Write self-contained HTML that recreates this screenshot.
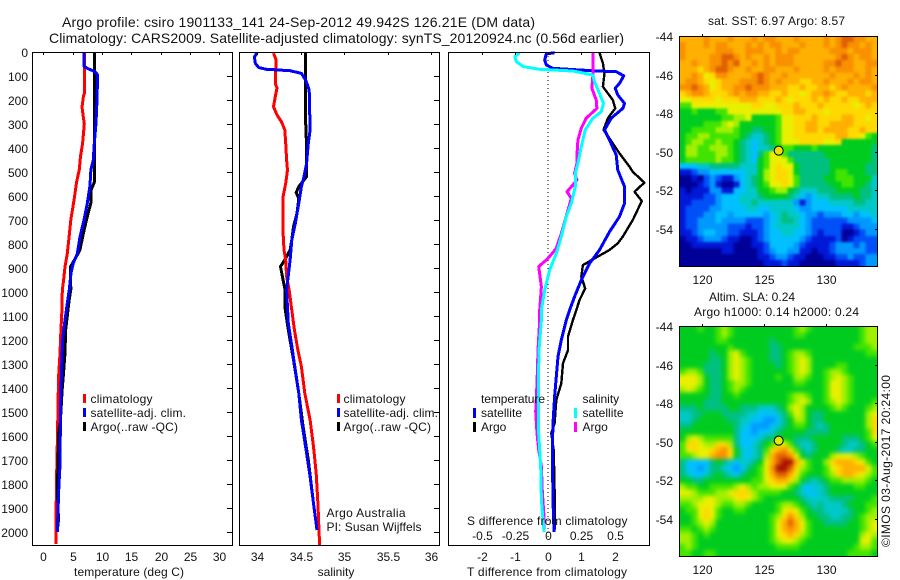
<!DOCTYPE html>
<html lang="en">
<head>
<meta charset="utf-8">
<title>Argo profile chart</title>
<style>
html,body{margin:0;padding:0;background:#fff;width:900px;height:580px;overflow:hidden}
svg{display:block;font-family:"Liberation Sans",sans-serif;font-size:12px;fill:#000}
text{fill:#111}
</style>
</head>
<body>
<svg id="chart" xmlns="http://www.w3.org/2000/svg" width="900" height="580" viewBox="0 0 900 580">
<defs>
<filter id="blur-sst" filterUnits="userSpaceOnUse" x="660" y="16" width="240" height="270" color-interpolation-filters="sRGB"><feGaussianBlur stdDeviation="1.2"/></filter>
<filter id="blur-sla" filterUnits="userSpaceOnUse" x="660" y="306" width="240" height="270" color-interpolation-filters="sRGB"><feGaussianBlur stdDeviation="2"/></filter>
<clipPath id="clip-sst"><rect x="679" y="36" width="198" height="230"/></clipPath>
<clipPath id="clip-sla"><rect x="679" y="326" width="198" height="230"/></clipPath>
</defs>
<rect x="0" y="0" width="900" height="580" fill="#fff"/>
<g clip-path="url(#clip-sst)"><g id="map-sst" filter="url(#blur-sst)"></g></g>
<g clip-path="url(#clip-sla)"><g id="map-sla" filter="url(#blur-sla)"></g></g>
<g id="lines"></g>
<g id="axes"></g>
<text x="62" y="27" font-size="14" textLength="473">Argo profile: csiro 1901133_141 24-Sep-2012 49.942S 126.21E (DM data)</text>
<text x="49" y="43" font-size="14" textLength="575">Climatology: CARS2009. Satellite-adjusted climatology: synTS_20120924.nc (0.56d earlier)</text>
<text x="74" y="576" textLength="110">temperature (deg C)</text>
<text x="336" y="576" text-anchor="middle">salinity</text>
<text x="467" y="576" textLength="160">T difference from climatology</text>
<text x="467" y="525" textLength="160.5">S difference from climatology</text>
<text x="326.5" y="517" textLength="79">Argo Australia</text>
<text x="326.5" y="531" textLength="95">PI: Susan Wijffels</text>
<text x="708" y="25" textLength="137">sat. SST: 6.97 Argo: 8.57</text>
<text x="709" y="301">Altim. SLA: 0.24</text>
<text x="694" y="316" textLength="165">Argo h1000: 0.14 h2000: 0.24</text>
<text transform="translate(890,547) rotate(-90)" textLength="172">©IMOS 03-Aug-2017 20:24:00</text>
<g>
<rect x="83" y="394" width="3" height="9" fill="#f00"/>
<text x="90.5" y="403" textLength="62">climatology</text>
<rect x="83" y="408" width="3" height="9" fill="#00f"/>
<text x="90.5" y="417" textLength="95.5">satellite-adj. clim.</text>
<rect x="83" y="422" width="3" height="9" fill="#000"/>
<text x="90.5" y="431" textLength="87.5">Argo(..raw -QC)</text>
</g>
<g>
<rect x="337" y="394" width="3" height="9" fill="#f00"/>
<text x="343.5" y="403" textLength="62">climatology</text>
<rect x="337" y="408" width="3" height="9" fill="#00f"/>
<text x="343.5" y="417" textLength="94.5">satellite-adj. clim.</text>
<rect x="337" y="422" width="3" height="9" fill="#000"/>
<text x="343.5" y="431" textLength="87.5">Argo(..raw -QC)</text>
</g>
<g>
<text x="481" y="403" textLength="64">temperature</text>
<rect x="473" y="408" width="3" height="10" fill="#00f"/>
<text x="481" y="417" textLength="41">satellite</text>
<rect x="473" y="422" width="3" height="10" fill="#000"/>
<text x="481" y="431">Argo</text>
<text x="582.5" y="403">salinity</text>
<rect x="574" y="408" width="3" height="10" fill="#0ff"/>
<text x="582.5" y="417" textLength="41">satellite</text>
<rect x="574" y="422" width="3" height="10" fill="#f0f"/>
<text x="582.5" y="431">Argo</text>
</g>
</svg>
<script>
/* ---------- tick labels ---------- */
const depthTicks = [0,100,200,300,400,500,600,700,800,900,1000,1100,1200,1300,1400,1500,1600,1700,1800,1900,2000];
const tempTicks = [0,5,10,15,20,25,30];
const salTicks = [34,34.5,35,35.5,36];
const tDiffTicks = [-2,-1,0,1,2];
const sDiffTicks = [-0.5,-0.25,0,0.25,0.5];
const lonTicks = [120,125,130];
const latTicks = [-44,-46,-48,-50,-52,-54];
const argoLon = 126.21;
const argoLat = -49.942;

/* ---------- temperature panel ---------- */
const climTempDepth = [5,170,185,230,300,380,435,490,540,615,700,770,840,895,965,990,1060,1160,1255,1360,1550,1730,1965,2050];
const climTemp = [7.05,7.05,6.85,6.6,7.0,6.7,6.35,6.15,5.7,5.25,4.7,4.4,4.1,3.7,3.4,3.25,3.2,3.0,2.85,2.6,2.45,2.3,2.15,2.15];
const satTempDepth = [5,60,70,82,95,200,297,380,450,490,560,630,700,770,840,880,920,990,1047,1117,1200,1315,1482,1728,1825,2000];
const satTemp = [6.94,6.94,7.68,8.82,9.27,9.16,8.99,8.7,8.53,8.13,7.96,7.51,6.94,6.26,5.8,5.12,4.72,4.44,4.1,3.7,3.3,3.13,2.96,2.84,2.62,2.39];
const argoTempDepth = [5,380,540,575,630,685,755,825,845,895,990,1035,1160,1255,1355,1410,1545,1575,1730,1825,1950,1990];
const argoTemp = [8.75,8.7,8.75,8.15,8.1,7.5,6.85,6.25,5.8,4.65,4.7,4.4,3.8,3.7,3.4,3.2,2.9,2.65,2.5,2.4,2.6,2.4];

/* ---------- salinity panel ---------- */
const climSalDepth = [5,33,130,151,186,228,262,290,325,380,450,492,547,603,756,825,867,936,992,1047,1158,1242,1311,1422,1533,1644,1756,1881,2054];
const climSal = [34.19,34.22,34.21,34.23,34.21,34.19,34.23,34.28,34.32,34.33,34.34,34.35,34.33,34.3,34.3,34.31,34.33,34.34,34.37,34.39,34.43,34.47,34.51,34.55,34.61,34.65,34.68,34.7,34.72];
const satSalDepth = [5,20,47,65,72,78,89,117,158,325,380,464,519,561,630,714,783,867,992,1131,1200,1325,1422,1533,1672,1769,1881,1992];
const satSal = [34.0,33.97,33.98,34.02,34.11,34.38,34.51,34.56,34.6,34.61,34.59,34.57,34.54,34.51,34.48,34.44,34.4,34.38,34.34,34.36,34.39,34.44,34.48,34.51,34.57,34.61,34.65,34.69];
const argoSalDepth = [5,297,394,519,547,561,586,610,672,728,783,825,860,894,950,985,1060,1158,1283,1422,1561,1700,1881,1992];
const argoSal = [34.56,34.56,34.57,34.57,34.51,34.48,34.45,34.48,34.46,34.42,34.4,34.38,34.33,34.27,34.3,34.32,34.32,34.36,34.42,34.48,34.53,34.59,34.65,34.69];

/* ---------- difference panel ---------- */
const satTDiffDepth = [3,8,33,54,68,75,79,82,99,131,151,179,214,235,276,325,367,429,492,561,631,686,749,825,881,950,1019,1075,1117,1200,1269,1353,1436,1547,1658,1867,2000];
const satTDiff = [0.2,-0.05,-0.1,-0.05,0.15,0.95,1.55,2.05,2.28,2.15,2.02,2.1,2.3,2.25,1.9,1.7,1.85,2.05,2.1,2.3,2.3,2.15,1.85,1.55,1.25,1.0,0.8,0.65,0.55,0.4,0.3,0.25,0.2,0.15,0.13,0.15,0.18];
const argoTDiffDepth = [3,47,89,144,200,235,276,325,360,422,478,499,544,582,621,700,769,797,825,860,888,936,985,1033,1075,1117,1186,1242,1297,1381,1450,1547,1589,1658,1831,1990];
const argoTDiff = [1.55,1.65,1.7,1.65,1.95,2.02,1.8,1.67,1.85,2.15,2.45,2.55,2.9,2.6,2.82,2.55,2.25,2.1,1.85,1.4,1.05,1.0,1.12,0.95,0.85,0.75,0.6,0.6,0.45,0.4,0.25,0.2,0.1,0.17,0.2,0.2];
const satSDiffDepth = [3,19,40,61,72,79,96,124,172,214,249,276,325,394,464,506,561,631,686,769,839,908,992,1075,1117,1242,1381,1589,1728,1867,2000];
const satSDiff = [-0.2125,-0.25,-0.2375,-0.1875,-0.0625,0.1875,0.3375,0.35,0.3875,0.4175,0.4,0.3375,0.28,0.25,0.225,0.205,0.205,0.175,0.1375,0.1,0.0625,0.0125,-0.025,-0.05,-0.05,-0.0675,-0.0725,-0.07,-0.055,-0.05,-0.03];
const argoSDiffDepth = [5,96,151,200,235,276,318,367,436,464,506,533,554,582,610,658,756,818,860,894,978,1075,1117,1242,1381,1497,1589,1658,1728,1831,1936,2000];
const argoSDiff = [0.3375,0.3375,0.33,0.3625,0.3675,0.2875,0.25,0.225,0.2175,0.2175,0.2,0.2175,0.1875,0.1425,0.175,0.15,0.1,0.0625,0,-0.07,-0.05,-0.0625,-0.0625,-0.075,-0.0825,-0.0925,-0.0825,-0.07,-0.05,-0.0425,-0.03,-0.03];

/* ---------- map colour levels (0 = coldest/lowest, 15 = warmest/highest) ---------- */
const sstGrid = [
[12,12,12,12,13,12,12,12,13,12,12,12,13,12,13,13,12,12,12,13,12,12,12,12,13,12,13,14,14,13,13,12,12],
[13,12,12,12,13,12,13,13,12,12,12,13,12,13,12,13,13,12,12,12,13,12,12,12,13,12,13,14,13,13,12,13,12],
[13,12,12,12,12,12,13,13,13,12,12,13,13,13,12,12,13,12,13,13,12,12,12,12,12,13,13,13,12,13,13,13,12],
[13,12,12,12,12,13,13,14,14,13,12,13,12,12,13,12,13,13,13,12,12,12,12,12,12,12,13,14,13,12,13,13,12],
[12,12,13,12,12,13,13,14,13,14,12,12,13,12,13,12,13,13,13,12,12,12,12,12,13,13,14,13,13,12,12,13,13],
[12,12,12,11,12,13,14,14,13,12,12,13,12,12,13,13,12,12,12,13,12,12,12,12,13,12,13,13,13,12,12,13,12],
[12,12,13,12,10,11,13,13,12,12,12,12,13,14,13,12,12,13,12,12,12,12,12,12,12,13,12,12,12,13,12,13,12],
[12,13,13,12,11,10,11,12,12,12,13,13,13,14,13,12,13,12,12,12,11,11,12,12,13,12,12,12,13,12,13,13,12],
[13,13,14,13,12,10,11,12,12,13,13,14,13,13,13,12,12,12,11,11,12,11,11,12,12,11,12,13,12,12,12,12,13],
[11,12,13,13,12,11,11,11,12,13,12,13,13,12,12,11,11,12,11,11,10,11,12,12,13,12,11,11,12,12,12,11,12],
[10,10,11,11,11,11,10,11,11,11,12,12,12,11,11,11,12,11,10,11,11,11,12,11,12,11,11,12,11,11,12,12,12],
[8,8,10,10,10,10,10,10,10,10,10,10,11,11,10,10,11,11,11,12,11,11,11,12,11,11,11,11,11,10,11,12,11],
[7,7,8,7,7,7,8,8,10,10,10,10,10,10,10,10,10,11,11,12,12,11,11,11,10,11,11,11,11,11,11,11,11],
[7,7,7,7,7,7,7,8,8,9,9,10,7,7,7,7,8,10,10,11,11,11,12,11,11,11,11,12,12,11,11,10,11],
[7,7,7,7,8,8,8,9,10,9,7,7,7,7,7,7,8,10,10,11,11,12,12,11,11,12,12,12,12,11,11,11,11],
[7,7,8,8,8,8,9,9,9,8,7,7,6,6,7,7,8,10,10,11,11,12,12,11,12,12,12,12,11,11,12,11,11],
[7,8,8,9,9,8,8,8,8,8,7,6,5,5,6,7,8,10,10,11,11,11,11,11,11,11,12,12,11,11,10,8,7],
[7,8,9,9,8,8,9,8,8,7,6,5,4,5,6,7,8,10,10,10,11,11,11,11,10,10,11,7,7,7,7,7,7],
[7,9,9,8,8,9,9,9,8,7,6,5,4,5,5,6,7,8,8,7,7,7,8,7,7,7,7,7,7,7,7,7,6],
[7,9,9,8,8,8,9,9,8,7,6,5,4,6,8,10,10,8,6,6,6,6,6,6,7,7,7,7,7,7,7,7,6],
[7,8,8,8,8,8,9,8,8,7,6,5,4,7,8,10,10,10,8,6,6,6,6,6,6,7,7,7,7,7,7,7,6],
[4,4,4,5,5,6,6,6,6,6,5,5,5,7,8,10,11,10,10,7,6,6,6,6,6,7,7,7,7,7,7,6,6],
[1,1,2,3,3,4,4,4,4,4,4,5,5,7,9,10,11,11,10,7,6,6,6,6,6,7,8,8,7,7,7,6,6],
[0,0,1,0,2,3,2,1,1,3,4,5,6,7,9,10,11,11,10,8,6,6,6,6,7,7,8,8,8,7,7,7,5],
[0,0,0,1,2,3,1,0,0,1,4,5,6,7,8,10,10,11,10,8,6,6,6,6,6,7,7,8,8,7,7,6,5],
[1,0,1,1,1,3,3,1,1,4,4,5,5,7,7,8,9,9,7,6,5,5,5,6,6,6,7,7,7,7,6,6,5],
[1,1,1,1,2,2,3,4,4,4,5,5,5,6,7,7,7,7,6,5,4,3,4,5,5,6,6,6,6,7,6,6,5],
[1,1,2,2,2,2,3,4,4,4,5,5,6,5,5,5,5,5,5,3,1,3,4,4,4,5,5,5,5,6,6,5,5],
[1,2,2,2,2,3,3,4,4,4,4,5,5,4,4,5,5,5,5,4,3,3,4,4,4,4,4,4,5,5,5,5,5],
[1,2,2,2,3,3,4,4,3,4,4,4,4,4,3,4,5,6,5,5,4,3,3,2,3,3,3,4,4,3,4,4,5],
[1,2,2,3,3,3,4,3,3,3,3,2,2,2,3,4,5,6,6,5,4,3,2,2,2,2,2,2,3,3,3,3,4],
[1,2,2,3,3,3,3,3,2,2,2,1,2,2,3,4,5,5,5,5,4,3,2,2,2,2,2,1,1,2,3,3,3],
[1,1,2,3,4,4,3,3,2,2,1,1,1,2,3,4,4,5,5,4,4,3,2,1,2,2,2,0,0,1,2,3,3],
[0,1,1,2,3,3,3,2,1,1,0,0,1,2,3,4,4,4,4,4,3,2,1,1,1,1,2,0,1,2,2,2,2],
[0,0,1,1,1,1,1,1,1,0,0,0,1,1,2,4,4,4,4,3,2,1,1,1,1,2,3,3,3,2,3,2,2],
[0,0,0,0,0,0,0,1,1,0,0,0,0,1,2,3,4,4,3,3,1,1,0,1,1,2,3,3,3,3,3,2,2],
[0,0,0,0,0,0,0,0,0,0,0,0,0,1,1,2,3,3,2,1,1,0,0,0,1,1,2,2,3,2,2,3,3],
[0,0,0,0,0,0,0,0,0,0,0,0,0,0,1,1,1,2,1,1,0,0,0,0,0,0,1,1,1,1,2,3,3]
];
const slaGrid = [
[7,7,7,8,7,7,8,9,8,7,7,7,7,7,7,7,7,7,7,8,9,8,7,7,7,7,7,7,7,7,8,9,9],
[7,7,7,7,7,7,8,9,8,7,7,7,7,7,7,7,7,7,7,8,8,7,7,7,7,7,7,7,7,7,8,9,9],
[7,7,7,7,7,7,8,8,7,7,7,7,7,7,7,6,7,7,7,7,7,7,7,7,7,7,7,7,7,7,8,9,9],
[7,7,7,7,7,7,7,7,8,7,7,7,7,7,7,6,6,7,7,7,7,7,7,7,7,7,7,7,7,8,8,8,9],
[7,7,7,7,7,6,7,7,9,10,8,7,7,7,7,6,6,7,8,9,9,8,7,7,7,7,7,7,7,7,7,8,8],
[7,7,7,7,7,6,6,7,9,10,9,8,7,7,7,6,6,7,8,9,10,9,7,7,7,7,7,7,7,7,7,7,7],
[7,7,7,7,6,6,6,7,9,10,9,8,7,7,7,7,6,7,8,9,10,9,7,7,7,7,8,8,7,7,7,7,7],
[8,9,9,8,6,6,6,7,9,10,9,8,7,7,7,7,7,7,8,9,10,9,7,7,8,9,9,8,7,7,7,7,7],
[10,10,10,9,7,6,6,7,9,10,9,8,7,7,7,7,8,7,7,9,9,8,7,7,8,9,10,9,8,7,7,7,7],
[10,10,10,9,7,6,6,7,8,9,9,8,7,7,7,7,7,7,7,8,8,7,7,7,8,10,10,9,8,7,7,7,7],
[9,10,9,8,7,6,6,7,8,9,8,7,7,7,7,7,7,7,7,7,7,7,7,7,8,10,10,9,8,7,7,7,7],
[7,7,7,7,7,6,6,7,7,8,7,7,7,7,7,7,7,7,8,9,9,8,7,7,8,10,10,9,8,7,7,7,7],
[7,7,7,7,6,6,6,7,7,7,7,7,7,7,7,7,7,7,8,9,10,9,7,7,8,9,10,9,8,7,7,7,8],
[6,6,6,7,6,6,6,6,7,7,6,6,6,5,5,5,6,7,9,10,9,7,7,7,7,8,9,8,7,7,7,8,9],
[5,5,6,6,7,7,7,6,6,6,6,5,5,4,4,4,5,6,8,10,9,7,6,6,7,7,7,7,7,7,7,9,10],
[5,5,6,7,7,7,7,7,6,6,5,5,4,4,3,3,4,6,7,9,9,7,6,6,7,7,7,7,7,7,7,9,11],
[6,6,7,7,7,7,7,7,7,6,5,4,3,3,3,4,5,6,7,8,8,7,6,5,6,7,7,7,7,7,7,9,11],
[7,7,7,7,7,7,7,7,7,6,4,4,3,4,4,5,6,7,7,7,7,6,6,6,6,7,7,7,7,7,7,8,11],
[7,9,10,9,8,8,8,8,8,6,4,4,4,5,6,6,7,7,7,6,6,6,7,7,7,7,7,6,6,6,7,8,10],
[8,11,11,10,9,9,11,11,9,6,4,4,5,6,7,8,10,10,8,6,5,5,6,7,7,7,7,6,5,5,6,7,8],
[8,10,11,10,10,11,12,13,11,7,5,4,5,6,8,11,12,13,11,8,6,5,6,7,7,7,6,5,5,6,6,7,7],
[8,8,9,10,10,12,13,13,11,7,5,4,5,6,9,12,14,14,13,10,7,6,7,7,7,9,10,10,10,9,8,7,7],
[6,4,4,4,4,6,7,6,5,4,5,5,6,7,10,12,14,15,15,12,10,8,7,7,9,11,12,12,12,11,10,8,7],
[6,4,4,3,4,6,6,5,4,3,4,6,7,8,10,13,15,15,14,11,9,8,7,7,8,10,11,12,12,12,12,10,8],
[6,5,4,4,5,6,7,6,5,4,6,7,7,8,10,12,14,14,12,10,8,7,7,7,8,9,11,12,12,11,10,9,8],
[7,7,6,6,7,7,7,7,7,7,7,7,8,8,10,11,12,12,11,9,7,6,5,6,7,8,8,9,9,9,9,8,7],
[9,8,8,7,7,8,8,8,8,9,10,9,8,9,9,10,10,10,8,7,5,4,5,5,6,7,7,7,7,8,8,7,7],
[10,10,9,8,8,8,9,9,10,11,11,11,9,8,8,8,8,7,7,6,5,4,4,5,6,7,7,7,7,7,7,7,7],
[9,9,9,9,10,10,9,9,9,10,11,10,9,8,7,7,7,7,7,7,6,5,5,5,5,6,6,6,6,7,7,7,8],
[8,8,9,10,10,10,9,8,8,9,9,8,7,7,7,7,8,9,9,8,7,6,5,6,5,5,5,6,7,7,7,8,8],
[7,8,8,10,11,10,8,7,7,8,8,7,7,7,7,7,8,10,11,10,8,7,6,6,5,5,5,5,6,7,7,8,9],
[7,7,8,10,11,10,8,7,7,7,7,7,7,7,7,8,9,11,13,11,9,7,7,6,6,5,5,6,6,7,8,9,9],
[7,7,8,9,10,9,7,7,7,7,7,7,7,7,7,8,10,12,14,12,10,8,7,7,6,6,6,6,7,7,8,9,10],
[8,8,7,8,9,8,7,7,7,7,7,7,7,7,7,8,10,12,13,12,10,8,7,7,7,7,7,7,7,7,8,9,10],
[9,9,8,7,8,7,7,7,7,7,7,7,7,7,7,8,10,11,12,11,9,8,7,7,7,7,7,7,7,7,9,10,9],
[9,9,8,7,7,7,7,7,7,7,7,7,7,7,7,8,9,10,10,9,8,7,7,7,7,7,7,7,7,7,10,10,8],
[8,9,8,7,7,7,7,7,7,7,7,7,7,7,7,7,8,8,8,8,7,7,7,7,7,7,7,7,7,8,9,9,8],
[8,8,7,7,8,8,7,7,7,7,7,7,7,7,7,7,7,7,7,7,7,7,7,7,7,7,7,7,8,8,8,8,7]
];

const palette = ['#000098','#0018d8','#0050f8','#0098ff','#00c0ff','#00c8c8','#00c080','#00cc20','#40e400','#a0f000','#e8f000','#ffd800','#ffb000','#f89000','#e06000','#a81000'];

/* ---------- axis functions ---------- */
const PANEL_TOP = 52, PANEL_BOTTOM = 545;
const dy = d => 52 + 0.24 * d;
const tempX = v => 43.3 + 5.86 * v;
const salX = v => 257 + 87 * (v - 34);
const tDiffX = v => 548 + 33.25 * v;
const sDiffX = v => 548 + 133 * v;
const LON_MIN = 118.2, LON_MAX = 134.16, LAT_TOP = -44, LAT_BOTTOM = -55.92;
const lonX = v => 701.7 + 12.4 * (v - 120);
const latY = (v, top) => top + 19.3 * (LAT_TOP - v);

const NS = 'http://www.w3.org/2000/svg';
function mk(parent, tag, attrs, txt) {
  const el = document.createElementNS(NS, tag);
  for (const k in attrs) el.setAttribute(k, attrs[k]);
  if (txt !== undefined) el.textContent = txt;
  parent.appendChild(el);
  return el;
}
const linesG = document.getElementById('lines');
const axesG = document.getElementById('axes');

function profile(depths, values, xf, color, width) {
  const pts = depths.map((d, i) => xf(values[i]).toFixed(1) + ',' + dy(d).toFixed(1)).join(' ');
  return mk(linesG, 'polyline', {points: pts, fill: 'none', stroke: color, 'stroke-width': width, 'stroke-linejoin': 'round', 'shape-rendering': 'crispEdges'});
}
function hline(x1, y1, x2, y2) {
  return mk(axesG, 'line', {x1: x1, y1: y1, x2: x2, y2: y2, stroke: '#000', 'stroke-width': 1, 'shape-rendering': 'crispEdges'});
}
function label(x, y, anchor, txt) {
  return mk(axesG, 'text', {x: x, y: y, 'text-anchor': anchor}, txt);
}
function frame(x1, y1, x2, y2) {
  return mk(axesG, 'rect', {x: x1 + 0.5, y: y1 + 0.5, width: x2 - x1, height: y2 - y1, fill: 'none', stroke: '#000', 'stroke-width': 1, 'shape-rendering': 'crispEdges'});
}

/* ---------- zero reference line ---------- */
const zeroLine = mk(linesG, 'line', {x1: tDiffX(0), y1: PANEL_TOP, x2: tDiffX(0), y2: dy(2030), stroke: '#000', 'stroke-width': 1, 'stroke-dasharray': '1 3'});



/* ---------- profile lines ---------- */
let ln;
ln = profile(climTempDepth, climTemp, tempX, '#f00', 3);


ln = profile(argoTempDepth, argoTemp, tempX, '#000', 3);


ln = profile(satTempDepth, satTemp, tempX, '#00f', 3);


ln = profile(argoSalDepth, argoSal, salX, '#000', 3);


ln = profile(climSalDepth, climSal, salX, '#f00', 3);


ln = profile(satSalDepth, satSal, salX, '#00f', 3);


ln = profile(argoTDiffDepth, argoTDiff, tDiffX, '#000', 2.4);


ln = profile(satTDiffDepth, satTDiff, tDiffX, '#00f', 3);


ln = profile(argoSDiffDepth, argoSDiff, sDiffX, '#f0f', 3);


ln = profile(satSDiffDepth, satSDiff, sDiffX, '#0ff', 3);



/* ---------- panel frames ---------- */
let fr;
fr = frame(32, PANEL_TOP, 232, PANEL_BOTTOM);


fr = frame(239, PANEL_TOP, 439, PANEL_BOTTOM);


fr = frame(448, PANEL_TOP, 649, PANEL_BOTTOM);



/* ---------- depth ticks ---------- */
depthTicks.forEach(d => {
  const y = Math.round(dy(d)) + 0.5;
  const t = label(28, y + 4.5, 'end', String(d));
  
  
  [[227, 232], [434, 439]].forEach(r => {
    const m = hline(r[0], y, r[1], y);
    
    
  });
});

/* ---------- x ticks ---------- */
function xTicks(ticks, xf, baseline, fmt, mark) {
  ticks.forEach(v => {
    const x = Math.round(xf(v)) + 0.5;
    const t = label(x, baseline, 'middle', fmt(v));
    
    
    if (mark) {
      const m = hline(x, PANEL_TOP, x, PANEL_TOP + 3);
      
      
    }
  });
}
xTicks(tempTicks, tempX, 561, String, true);
xTicks(salTicks, salX, 561, String, true);
xTicks(tDiffTicks, tDiffX, 561, String, true);
xTicks(sDiffTicks, sDiffX, 540, String, false);

/* ---------- maps ---------- */
const BLEED = 12; /* edge cells extend past the clip so the blur does not fade at the frame */
function drawMap(grid, top, group) {
  const rows = grid.length, cols = grid[0].length;
  const lonStep = (LON_MAX - LON_MIN) / cols;
  const latStep = (LAT_TOP - LAT_BOTTOM) / rows;
  grid.forEach((row, j) => {
    row.forEach((level, i) => {
      let x0 = lonX(LON_MIN + i * lonStep), x1 = lonX(LON_MIN + (i + 1) * lonStep);
      let y0 = latY(LAT_TOP - j * latStep, top), y1 = latY(LAT_TOP - (j + 1) * latStep, top);
      if (i === 0) x0 -= BLEED;
      if (i === cols - 1) x1 += BLEED;
      if (j === 0) y0 -= BLEED;
      if (j === rows - 1) y1 += BLEED;
      const cell = mk(group, 'rect', {x: x0.toFixed(2), y: y0.toFixed(2), width: (x1 - x0 + 0.5).toFixed(2), height: (y1 - y0 + 0.5).toFixed(2), fill: palette[level], 'shape-rendering': 'crispEdges'});
      
      
    });
  });
  const box = frame(679, top, 877, top + 230);
  
  
  lonTicks.forEach(v => {
    const x = Math.round(lonX(v)) + 0.5;
    const m = hline(x, top - 2, x, top);
    
    
    const t = label(x, top + 248, 'middle', String(v));
    
    
  });
  latTicks.forEach(v => {
    const y = Math.round(latY(v, top)) + 0.5;
    const m = hline(875, y, 878, y);
    
    
    const t = label(673, y + 4.5, 'end', String(v));
    
    
  });
}
drawMap(sstGrid, 36, document.getElementById('map-sst'));
drawMap(slaGrid, 326, document.getElementById('map-sla'));

const dot1 = mk(axesG, 'circle', {cx: lonX(argoLon), cy: latY(argoLat, 36), r: 4.5, fill: '#f0e000', stroke: '#000', 'stroke-width': 1});


const dot2 = mk(axesG, 'circle', {cx: lonX(argoLon), cy: latY(argoLat, 326), r: 4.5, fill: '#d8f000', stroke: '#000', 'stroke-width': 1});


</script>
</body>
</html>
